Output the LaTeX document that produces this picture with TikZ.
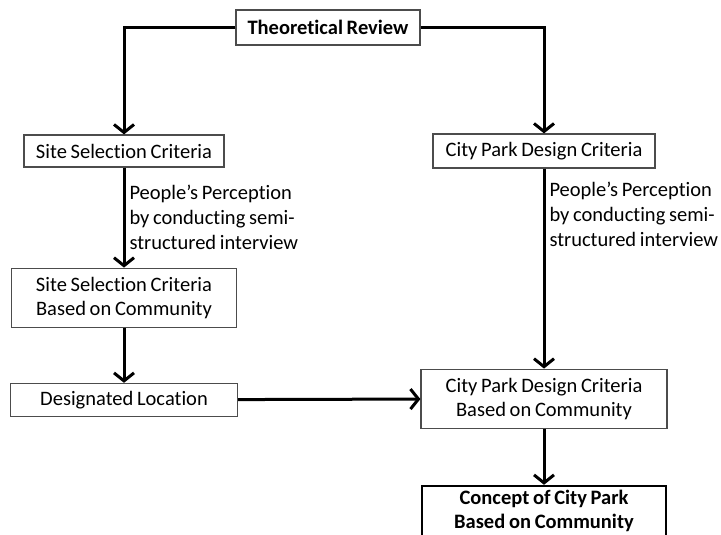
\documentclass[tikz,border=0pt]{standalone}
\usepackage{fontspec}
\setmainfont{Carlito}[Ligatures=NoCommon, WordSpace=0.8]
\usepackage{tikz}
\usetikzlibrary{arrows.meta, positioning}

\begin{document}
\begin{tikzpicture}[
  x=1pt, y=1pt,
  font=\fontsize{20.5}{24}\selectfont,
  >={Straight Barb[length=8pt, width=20pt]},
  box/.style={draw=black!70, line width=1.2pt, fill=white, align=center,
              inner sep=3pt, minimum width=#1},
  flow/.style={->, line width=3pt, black},
  note/.style={align=left, inner sep=0pt, font=\fontsize{20.5}{25}\selectfont}
]
\useasboundingbox (0,0) rectangle (721,-535);

% ---- Top ----
\node[box=184pt, minimum height=35pt, font=\fontsize{20.5}{24}\selectfont\bfseries]
  (theory) at (328,-27.5) {Theoretical Review};

% ---- Left column ----
\node[box=200pt, minimum height=32pt] (site) at (124,-151) {Site Selection Criteria};
\node[box=225pt, minimum height=59pt, below=100pt of site] (sitecom)
  {Site Selection Criteria\\ Based on Community};
\node[box=227pt, minimum height=33pt, below=55pt of sitecom] (loc) {Designated Location};

% ---- Right column ----
\node[box=222pt, minimum height=34pt] (design) at (544,-151) {City Park Design Criteria};
\node[box=246pt, minimum height=59pt, below=200pt of design] (designcom)
  {City Park Design Criteria\\ Based on Community};
\node[box=244pt, inner ysep=4pt, text depth=16pt, draw=black, line width=2pt,
      below=56pt of designcom, font=\fontsize{20.5}{24}\selectfont\bfseries] (concept)
  {Concept of City Park\\ Based on Community};

% ---- Connectors ----
\draw[flow] (theory.west) -| (site.north);
\draw[flow] (theory.east) -| (design.north);
\draw[flow] (site) -- node[note, right=4pt]
  {People’s Perception\\ by conducting semi-\\ structured interview} (sitecom);
\draw[flow] (design) -- node[note, pos=0.23, right=4pt]
  {People’s Perception\\ by conducting semi-\\ structured interview} (designcom);
\draw[flow] (sitecom) -- (loc);
\draw[flow] (loc) -- (designcom);
\draw[flow] (designcom) -- (concept);

\end{tikzpicture}
\end{document}
